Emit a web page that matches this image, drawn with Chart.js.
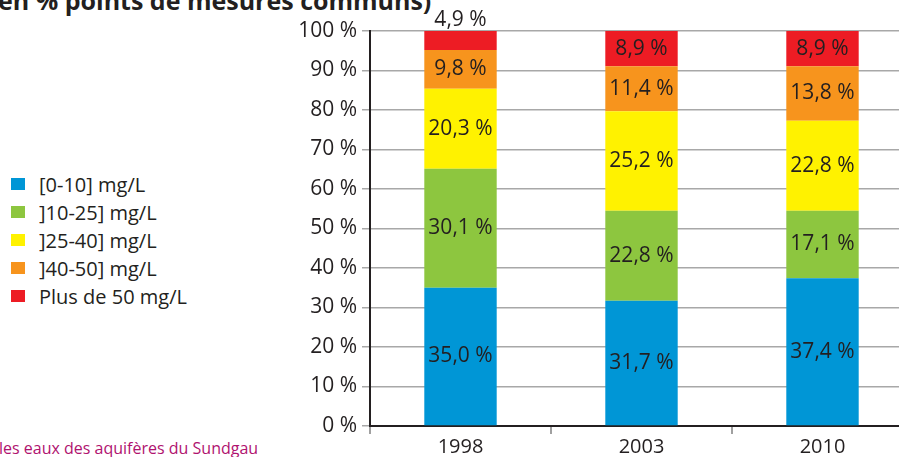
<!DOCTYPE html>
<html lang="fr">
<head>
    <meta charset="UTF-8">
    <title>Teneurs en nitrates</title>
    <script src="https://cdn.jsdelivr.net/npm/chart.js"></script>
    <style>
        body {
            margin: 0;
            width: 899px;
            height: 457px;
            overflow: hidden;
            position: relative;
            background: #ffffff;
            font-family: "Open Sans", "Noto Sans", sans-serif;
            color: #231f20;
        }
        #titre {
            position: absolute;
            left: -2px;
            top: -12px;
            font-size: 25px;
            line-height: 25px;
            font-weight: bold;
            color: #231f20;
            white-space: nowrap;
        }
        #source {
            position: absolute;
            left: -1px;
            top: 440px;
            font-size: 16px;
            line-height: 16px;
            color: #b0126f;
            white-space: nowrap;
        }
        #legende {
            position: absolute;
            left: 11px;
            top: 170px;
        }
        .item {
            display: flex;
            align-items: center;
            height: 28px;
            font-size: 20px;
            color: #231f20;
        }
        .carre {
            width: 14px;
            height: 12px;
            margin-right: 14px;
        }
        #graph {
            position: absolute;
            left: 0;
            top: 0;
        }
    </style>
</head>
<body>
<div id="titre">en % points de mesures communs)</div>
<div id="source">les eaux des aquifères du Sundgau</div>
<div id="legende"></div>
<canvas id="graph" width="920" height="457"></canvas>

<script>
    // Données
    const annees = ['1998', '2003', '2010'];
    const classes = ['[0-10] mg/L', ']10-25] mg/L', ']25-40] mg/L', ']40-50] mg/L', 'Plus de 50 mg/L'];
    const couleurs = ['#0096d6', '#8dc63f', '#fff200', '#f7941d', '#ed1c24'];
    const classe0_10 = [35.0, 31.7, 37.4];
    const classe10_25 = [30.1, 22.8, 17.1];
    const classe25_40 = [20.3, 25.2, 22.8];
    const classe40_50 = [9.8, 11.4, 13.8];
    const classePlus50 = [4.9, 8.9, 8.9];
    const graduations = [0, 10, 20, 30, 40, 50, 60, 70, 80, 90, 100];

    const series = [classe0_10, classe10_25, classe25_40, classe40_50, classePlus50];
    const police = '"Open Sans", "Noto Sans", sans-serif';

    // Légende à gauche
    const legende = document.getElementById('legende');
    classes.forEach((c, i) => {
        const item = document.createElement('div');
        item.className = 'item';
        item.innerHTML = '<span class="carre" style="background:' + couleurs[i] + '"></span><span>' + c + '</span>';
        legende.appendChild(item);
    });

    const formatPct = v => v.toFixed(1).replace('.', ',') + ' %';

    // Étiquettes de valeurs sur les barres
    const etiquettes = {
        id: 'etiquettes',
        afterDatasetsDraw(chart) {
            const ctx = chart.ctx;
            ctx.save();
            ctx.font = '21px ' + police;
            ctx.fillStyle = '#231f20';
            ctx.textAlign = 'center';
            ctx.textBaseline = 'middle';
            chart.data.datasets.forEach((ds, i) => {
                chart.getDatasetMeta(i).data.forEach((bar, j) => {
                    const v = ds.data[j];
                    let y = (bar.y + bar.base) / 2;
                    if (v < 6) {
                        y = bar.y - 11; // trop petit : au-dessus de la barre
                    }
                    ctx.fillText(formatPct(v), bar.x, y);
                });
            });
            ctx.restore();
        }
    };

    new Chart(document.getElementById('graph').getContext('2d'), {
        type: 'bar',
        data: {
            labels: annees,
            datasets: series.map((d, i) => ({
                label: classes[i],
                data: d,
                backgroundColor: couleurs[i],
                borderWidth: 0,
                categoryPercentage: 1,
                barPercentage: 0.4
            }))
        },
        options: {
            responsive: false,
            animation: false,
            layout: {
                padding: { top: 31, right: 7, bottom: 0, left: 0 }
            },
            plugins: {
                legend: { display: false },
                tooltip: { enabled: false }
            },
            scales: {
                x: {
                    stacked: true,
                    grid: {
                        display: true,
                        drawOnChartArea: false,
                        drawTicks: true,
                        tickLength: 8,
                        color: '#a0a0a0',
                        lineWidth: 2
                    },
                    border: { color: '#231f20', width: 2 },
                    ticks: {
                        color: '#231f20',
                        font: { family: police, size: 20 },
                        padding: 1
                    },
                    afterFit(scale) {
                        scale.height = 31;
                    }
                },
                y: {
                    stacked: true,
                    min: 0,
                    max: 100,
                    afterBuildTicks(scale) {
                        scale.ticks = graduations.map(v => ({ value: v }));
                    },
                    grid: {
                        color: '#a8a8a8',
                        lineWidth: 1.5,
                        tickLength: 8
                    },
                    border: { color: '#231f20', width: 2 },
                    ticks: {
                        color: '#231f20',
                        font: { family: police, size: 21 },
                        padding: 5,
                        callback: v => v + ' %'
                    },
                    afterFit(scale) {
                        scale.width = 370;
                    }
                }
            }
        },
        plugins: [etiquettes]
    });
</script>
</body>
</html>
